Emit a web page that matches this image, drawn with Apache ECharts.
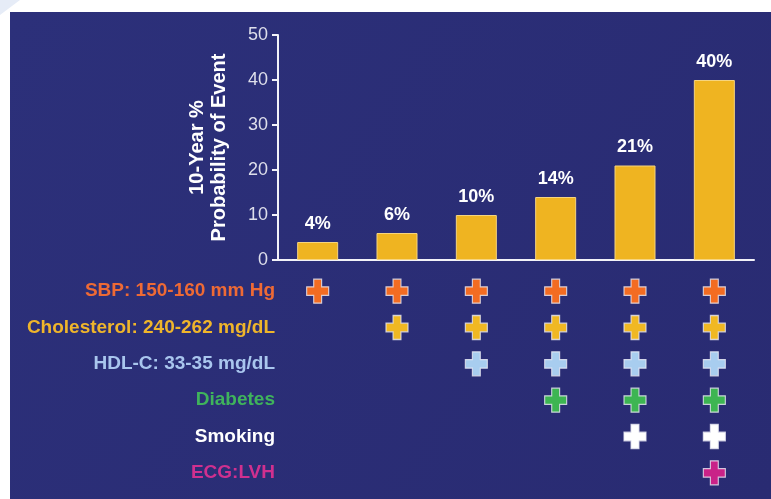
<!DOCTYPE html>
<html>
<head>
<meta charset="utf-8">
<script src="https://cdn.jsdelivr.net/npm/echarts@6/dist/echarts.min.js"></script>
<style>
  html, body { margin: 0; padding: 0; background: #ffffff; }
  #chart { width: 771px; height: 499px; }
</style>
</head>
<body>
<div id="chart"></div>
<script>
// Risk profiles (one column per combination of risk factors)
const profiles = ['A', 'B', 'C', 'D', 'E', 'F'];
// 10-year probability of event, %
const probability = [4, 6, 10, 14, 21, 40];
const yTicks = [0, 10, 20, 30, 40, 50];

// Risk factor rows shown under the bars
const factors = [
  'SBP: 150-160 mm Hg',
  'Cholesterol: 240-262 mg/dL',
  'HDL-C: 33-35 mg/dL',
  'Diabetes',
  'Smoking',
  'ECG:LVH'
];
const factorColors = ['#ee6a35', '#efb52b', '#a9c6ee', '#3fb35c', '#ffffff', '#d0308f'];
const crossColors  = ['#f36c22', '#f0b823', '#a8cdef', '#3db552', '#ffffff', '#c92288'];

// Presence of each factor in each profile (1 = present)
const sbp         = [1, 1, 1, 1, 1, 1];
const cholesterol = [0, 1, 1, 1, 1, 1];
const hdl         = [0, 0, 1, 1, 1, 1];
const diabetes    = [0, 0, 0, 1, 1, 1];
const smoking     = [0, 0, 0, 0, 1, 1];
const ecgLvh      = [0, 0, 0, 0, 0, 1];
const presence = [sbp, cholesterol, hdl, diabetes, smoking, ecgLvh];

const FONT = '"Liberation Sans", Arial, Helvetica, sans-serif';
const plusPath = 'path://M3.2,0 H6.8 V3.2 H10 V6.8 H6.8 V10 H3.2 V6.8 H0 V3.2 H3.2 Z';

const crossSeries = presence.map((row, fi) => ({
  type: 'scatter',
  xAxisIndex: 1,
  yAxisIndex: 1,
  symbol: plusPath,
  symbolSize: [22, 24],
  itemStyle: {
    color: crossColors[fi],
    opacity: 1,
    borderColor: 'rgba(235,235,245,0.8)',
    borderWidth: 1.2
  },
  silent: true,
  data: row.map((v, ci) => v ? [ci, fi] : null).filter(d => d)
}));

const chart = echarts.init(document.getElementById('chart'), null, { renderer: 'canvas' });

chart.setOption({
  animation: false,
  backgroundColor: '#ffffff',
  graphic: [
    {
      type: 'polygon',
      z: -20,
      shape: { points: [[0, 0], [20, 0], [0, 15]] },
      style: { fill: '#e6ecf7' }
    },
    {
      type: 'rect',
      z: -10,
      shape: { x: 10, y: 12, width: 761, height: 487 },
      style: {
        fill: new echarts.graphic.LinearGradient(0, 0, 1, 1, [
          { offset: 0, color: '#2c307a' },
          { offset: 1, color: '#292b72' }
        ])
      }
    }
  ],
  grid: [
    { left: 278, width: 476, top: 35, height: 225 },
    { left: 278, width: 476, top: 273, height: 218 }
  ],
  xAxis: [
    {
      type: 'category',
      gridIndex: 0,
      data: profiles,
      axisLine: { lineStyle: { color: '#f2f2f8', width: 2 } },
      axisTick: { show: false },
      axisLabel: { show: false }
    },
    {
      type: 'category',
      gridIndex: 1,
      data: profiles,
      axisLine: { show: false },
      axisTick: { show: false },
      axisLabel: { show: false }
    }
  ],
  yAxis: [
    {
      type: 'value',
      gridIndex: 0,
      min: 0,
      max: 50,
      interval: 10,
      name: '10-Year %\nProbability of Event',
      nameLocation: 'middle',
      nameRotate: 90,
      nameGap: 48,
      nameTextStyle: {
        color: '#ffffff',
        fontFamily: FONT,
        fontWeight: 'bold',
        fontSize: 20,
        lineHeight: 22
      },
      axisLine: { show: true, lineStyle: { color: '#f2f2f8', width: 2 } },
      axisTick: { show: true, length: 6, lineStyle: { color: '#f2f2f8', width: 2 } },
      axisLabel: {
        color: '#dedfeb',
        fontFamily: FONT,
        fontSize: 18,
        margin: 10,
        formatter: v => yTicks.includes(v) ? String(v) : ''
      },
      splitLine: { show: false }
    },
    {
      type: 'category',
      gridIndex: 1,
      inverse: true,
      data: factors,
      axisLine: { show: false },
      axisTick: { show: false },
      axisLabel: {
        margin: 3,
        fontFamily: FONT,
        fontWeight: 'bold',
        fontSize: 19,
        color: (value, index) => factorColors[index]
      }
    }
  ],
  series: [
    {
      type: 'bar',
      xAxisIndex: 0,
      yAxisIndex: 0,
      data: probability,
      barWidth: 41,
      itemStyle: {
        color: '#efb421',
        borderColor: '#f6d47e',
        borderWidth: 1
      },
      label: {
        show: true,
        position: 'top',
        distance: 9,
        formatter: p => p.value + '%',
        color: '#ffffff',
        fontFamily: FONT,
        fontWeight: 'bold',
        fontSize: 18
      },
      silent: true
    },
    ...crossSeries
  ]
});
</script>
</body>
</html>
